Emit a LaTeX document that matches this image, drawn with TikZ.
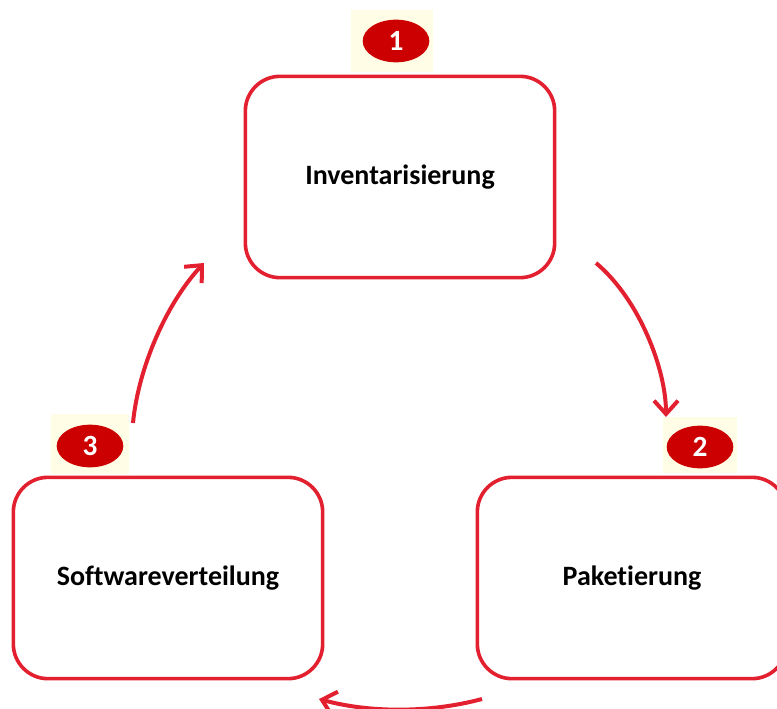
\documentclass[tikz,border=0pt]{standalone}
\usepackage{fontspec}
\setmainfont{Carlito}[Ligatures={NoCommon,NoRare,NoContextual}]
\usetikzlibrary{arrows.meta,shapes.geometric}
\definecolor{boxred}{HTML}{E2202F}
\definecolor{badgered}{HTML}{CC0000}
\definecolor{badgebg}{HTML}{FFFDE6}

\begin{document}
\begin{tikzpicture}
  [ x=0.75pt, y=-0.75pt,
    stage/.style={rectangle, draw=boxred, line width=2.7pt, rounded corners=26pt,
      minimum width=232pt, minimum height=151pt, fill=white,
      font=\bfseries\fontsize{21}{25}\selectfont},
    badgebox/.style={rectangle, fill=badgebg, inner sep=0pt},
    badge/.style={ellipse, fill=badgered, text=white, inner sep=0pt,
      minimum width=50pt, minimum height=32pt,
      font=\bfseries\fontsize{22}{26}\selectfont},
    cycle/.style={draw=boxred, line width=3pt,
      -{Straight Barb[length=10pt, width=18pt, line width=3pt]}}
  ]
  \useasboundingbox (0,0) rectangle (777,709);

  \node[badgebox, minimum width=61pt, minimum height=47pt] (bg1) at (392,41) {};
  \node[badgebox, minimum width=56pt, minimum height=42pt] (bg2) at (700,445) {};
  \node[badgebox, minimum width=59pt, minimum height=45pt] (bg3) at (90,444) {};

  \node[stage] (inv) at (400,177) {Inventarisierung};
  \node[stage] (pak) at (632,578) {Paketierung};
  \node[stage] (soft) at (168,578) {Softwareverteilung};

  \node[badge] (one) at (396,41) {1};
  \node[badge] (two) at (700,447) {2};
  \node[badge] (three) at (90,446) {3};

  \coordinate (invout) at (596,263);
  \coordinate (pakin) at (666,417);
  \coordinate (pakout) at (482,699);
  \coordinate (softin) at (319,699);
  \coordinate (softout) at (133,423);
  \coordinate (invin) at (204,263);

  \draw [cycle] (invout) .. controls (640,300) and (666,370) .. (pakin);
  \draw [cycle] (pakout) .. controls (430,713) and (370,713) .. (softin);
  \draw [cycle] (softout) .. controls (138,370) and (165,305) .. (invin);
\end{tikzpicture}
\end{document}
